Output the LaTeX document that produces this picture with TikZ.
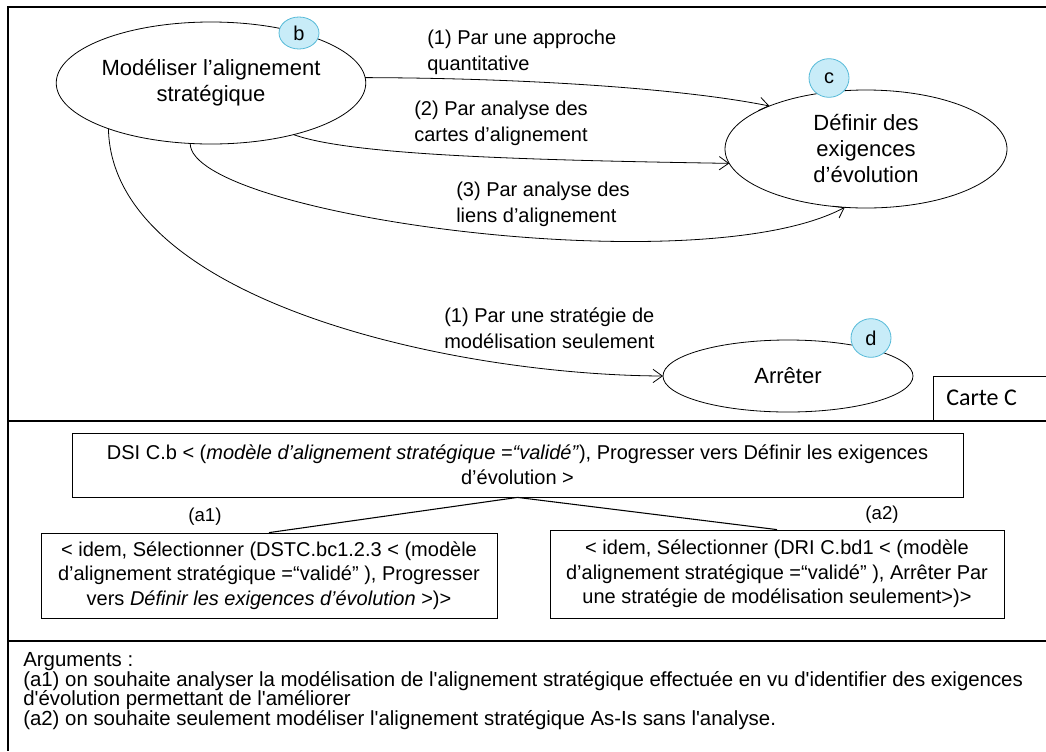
\documentclass[tikz,border=0pt]{standalone}
\usepackage{fontspec}
\setmainfont{Liberation Sans}
\newfontfamily\cartefont{Carlito}
\usetikzlibrary{arrows.meta,shapes.geometric}
\definecolor{badgefill}{RGB}{200,236,248}
\definecolor{badgeline}{RGB}{86,186,216}

\begin{document}
\begin{tikzpicture}[
  x=0.75pt,
  y=-0.75pt,
  goal/.style={ellipse, draw, line width=0.6pt, inner sep=0pt, outer sep=0pt, align=center, font=\fontsize{16.5}{19.5}\selectfont},
  badge/.style={ellipse, draw=badgeline, fill=badgefill, line width=0.6pt, inner sep=0pt, minimum width=30pt, minimum height=29pt, font=\fontsize{15}{17}\selectfont},
  strat/.style={line width=0.6pt, -{Straight Barb[length=7pt,width=10pt]}},
  lbl/.style={anchor=west, align=left, inner sep=0pt, font=\fontsize{15}{19.5}\selectfont},
  intent/.style={draw, line width=0.6pt, inner sep=0pt, align=center, font=\fontsize{15}{18.5}\selectfont},
  argtext/.style={inner sep=0pt, font=\fontsize{14}{16}\selectfont},
  framerule/.style={line width=0.9pt},
  sectionrule/.style={line width=1.6pt}
]
\useasboundingbox (0,0) rectangle (1046,751);
\draw[framerule] (1046,7) -| (8,751);
\node[goal, minimum width=210pt, minimum height=91.5pt] (model) at (211,83) {Modéliser l’alignement\\stratégique};
\node[goal, minimum width=211.5pt, minimum height=88.5pt] (define) at (866,149) {Définir des\\exigences\\d’évolution};
\node[goal, minimum width=187.5pt, minimum height=54pt] (stop) at (788,376) {Arrêter};
\node[badge, minimum height=24pt] (bb) at (299,33) {b};
\node[badge] (bc) at (829,78) {c};
\node[badge] (bd) at (871,338) {d};
\draw[strat] (model.2) .. controls (520,78) and (680,88) .. (define.156);
\draw[strat] (model.-32) .. controls (350,155) and (520,160) .. (define.186);
\draw[strat] (model.251) .. controls (190,215) and (700,285) .. (define.250);
\draw[strat] (model.204) .. controls (112,300) and (450,375) .. (stop.west);
\node[lbl] (l1) at (427,52) {(1) Par une approche\\quantitative};
\node[lbl] (l2) at (414,123.5) {(2) Par analyse des\\cartes d’alignement};
\node[lbl] (l3) at (456,204) {(3) Par analyse des\\liens d’alignement};
\node[lbl] (l4) at (444,328) {(1) Par une stratégie de\\modélisation seulement};
\draw[line width=0.6pt] (1046,376) -| (933,421);
\node[anchor=west, inner sep=0pt, font=\cartefont\fontsize{18}{20}\selectfont] (carte) at (946,398) {Carte C};
\draw[sectionrule] (8,421) -- (1046,421);
\draw[sectionrule] (8,641) -- (1046,641);
\node[intent, minimum width=668.25pt, minimum height=48pt] (main) at (517.5,465) {DSI C.b < (\textit{modèle d’alignement stratégique =“validé”}), Progresser vers Définir les exigences\\d’évolution >};
\node[intent, minimum width=342pt, minimum height=63.75pt] (opta) at (269,575.5) {< idem, Sélectionner (DSTC.bc1.2.3 < (modèle\\d’alignement stratégique =“validé” ), Progresser\\vers \textit{Définir les exigences d’évolution} >)>};
\node[intent, minimum width=340.5pt, minimum height=66pt] (optb) at (777,574) {< idem, Sélectionner (DRI C.bd1 < (modèle\\d’alignement stratégique =“validé” ), Arrêter Par\\une stratégie de modélisation seulement>)>};
\draw[line width=0.8pt] (main.south) -- (opta.north);
\draw[line width=0.8pt] (main.south) -- (optb.north);
\node[argtext] (a1) at (205,517) {(a1)};
\node[argtext] (a2) at (882,515) {(a2)};
\node[anchor=west, align=left, inner sep=0pt, font=\fontsize{15.3}{14.8}\selectfont] (args) at (23,691) {Arguments :\\(a1) on souhaite analyser la modélisation de l\textquotesingle alignement stratégique effectuée en vu d\textquotesingle identifier des exigences\\d\textquotesingle évolution permettant de l\textquotesingle améliorer\\(a2) on souhaite seulement modéliser l\textquotesingle alignement stratégique As-Is sans l\textquotesingle analyse.};
\end{tikzpicture}
\end{document}
